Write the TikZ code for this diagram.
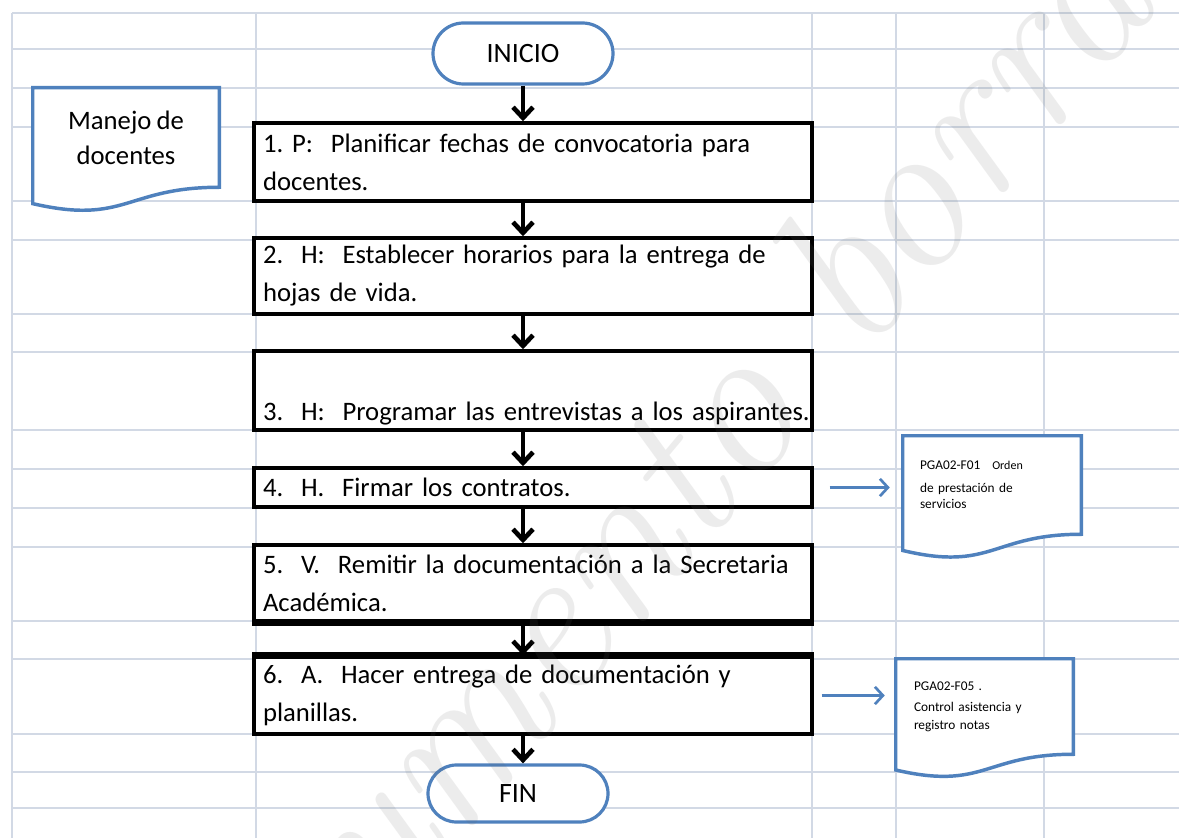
\documentclass[tikz,border=0pt]{standalone}
\usepackage{fontspec}
\newfontfamily\calibri{Carlito}[WordSpace=0.85]
\usetikzlibrary{shapes.misc,arrows.meta,calc}

\definecolor{gridcol}{HTML}{D2D9E5}
\definecolor{docblue}{HTML}{4F81BD}

\pgfdeclarelayer{gridlayer}
\pgfdeclarelayer{shapes}
\pgfdeclarelayer{wm}
\pgfsetlayers{gridlayer,shapes,main,wm}

\frenchspacing

\tikzset{
  gridline/.style={draw=gridcol, line width=2.2pt},
  stepbox/.style={draw=black, fill=white, line width=2.6pt,
    minimum width=418.5pt, inner xsep=0pt, inner ysep=0pt,
    text width=405pt, align=left,
    font=\calibri\fontsize{20}{28.5}\selectfont},
  terminal/.style={rounded rectangle, draw=docblue, fill=white, line width=2.4pt,
    minimum width=135pt, inner sep=0pt, font=\calibri\fontsize{21}{24}\selectfont},
  docnode/.style={inner ysep=0pt, font=\calibri\fontsize{10}{12}\selectfont},
  docline/.style={draw=docblue, fill=white, line width=2.6pt},
  flow/.style={line width=3.5pt, -{Straight Barb[length=8pt,width=15pt]}},
  linkarrow/.style={docblue, line width=2pt, -{Straight Barb[length=6pt,width=13pt]}},
}

% one unbreakable line of step text
\newcommand\stepline[1]{\mbox{#1}}

% document symbol with a wavy bottom edge, drawn around an existing node
\newcommand\docshape[1]{%
  \path[docline] (#1.north west) -- (#1.north east) -- (#1.south east)
    .. controls (#1.south) and ($(#1.north)!1.381!(#1.south)$)
    .. ($(#1.north west)!1.1646!(#1.south west)$) -- cycle;}

\begin{document}
\begin{tikzpicture}[x=0.75pt, y=-0.75pt]
\useasboundingbox (0,0) rectangle (1179,838);

% sheet background and cell grid
\begin{pgfonlayer}{gridlayer}
  \fill[white] (0,0) rectangle (1179,838);
  \foreach \gy in {13,49,88,127,201,240,314,352,430,469,508,547,621,659,734,772,808}
    \draw[gridline] (12,\gy) -- (1179,\gy);
  \foreach \gx in {12,256,812,896,1044}
    \draw[gridline] (\gx,13) -- (\gx,838);
\end{pgfonlayer}

% terminals
\node[terminal, minimum height=45.75pt] (ini) at (523,53.5) {INICIO};
\node[terminal, minimum height=42.75pt] (fin) at (518,793.5) {FIN};

% process steps
\node[stepbox, minimum height=58.5pt] (b1) at (533,162)
  {\stepline{1. P:~ Planificar fechas de convocatoria para}\\\stepline{docentes.}};
\node[stepbox, minimum height=57pt] (b2) at (533,276)
  {\stepline{2.~ H:~ Establecer horarios para la entrega de}\\\stepline{hojas de vida.}};
\node[stepbox, minimum height=59.25pt] (b3) at (533,390.5)
  {\strut\\\stepline{3.~ H:~ Programar las entrevistas a los aspirantes.}};
\node[stepbox, minimum height=29.25pt] (b4) at (533,487.5)
  {\stepline{4.~ H.~ Firmar los contratos.}};
\node[stepbox, minimum height=57pt] (b5) at (533,583)
  {\stepline{5.~ V.~ Remitir la documentación a la Secretaria}\\\stepline{Académica.}};
\node[stepbox, minimum height=57.75pt] (b6) at (533,695.5)
  {\stepline{6.~ A.~ Hacer entrega de documentación y}\\\stepline{planillas.}};
\draw[line width=4.5pt] (b5.south west) -- (b5.south east);
\draw[line width=4.5pt] (b6.north west) -- (b6.north east);

% documents
\node[docnode, minimum width=139.5pt, minimum height=74.25pt, align=center,
      font=\calibri\fontsize{20}{26.25}\selectfont] (man) at (126,137.5)
  {Manejo de\\docentes};
\node[docnode, minimum width=133.5pt, minimum height=73.5pt, inner xsep=12.75pt,
      text width=108pt, align=left] (d1) at (992,485)
  {PGA02-F01\hspace{9pt}{\fontsize{9}{10}\selectfont Orden}\\[5pt]de prestación de\\servicios};
\node[docnode, minimum width=132.75pt, minimum height=71.25pt, inner xsep=13.5pt,
      text width=105.75pt, align=left] (d2) at (984.5,706.5)
  {PGA02-F05 .\\[3.75pt]Control asistencia y\\[1.5pt]registro notas};
\begin{pgfonlayer}{shapes}
  \docshape{man}
  \docshape{d1}
  \docshape{d2}
\end{pgfonlayer}

% flow connectors
\draw[flow] (ini.south) -- (ini.south |- b1.north);
\draw[flow] (b1.south -| ini.south) -- (b2.north -| ini.south);
\draw[flow] (b2.south -| ini.south) -- (b3.north -| ini.south);
\draw[flow] (b3.south -| ini.south) -- (b4.north -| ini.south);
\draw[flow] (b4.south -| ini.south) -- (b5.north -| ini.south);
\draw[flow] (b5.south -| ini.south) -- (b6.north -| ini.south);
\draw[flow] (b6.south -| ini.south) -- (fin.north -| ini.south);

% links to the records
\draw[linkarrow] ($(b4.east)+(16,0)$) -- ($(d1.west |- b4.east)+(-13,0)$);
\draw[linkarrow] ($(b6.east)+(8,0)$) -- ($(d2.west |- b6.east)+(-11,0)$);

% diagonal watermark
\begin{pgfonlayer}{wm}
  \begin{scope}
    \clip (0,0) rectangle (1179,838);
    \node[rotate=50, text=black!60, text opacity=0.12,
          font=\rmfamily\itshape\fontsize{160}{160}\selectfont] (wmark) at (700,440)
      {Documento borrador};
  \end{scope}
\end{pgfonlayer}
\end{tikzpicture}
\end{document}
